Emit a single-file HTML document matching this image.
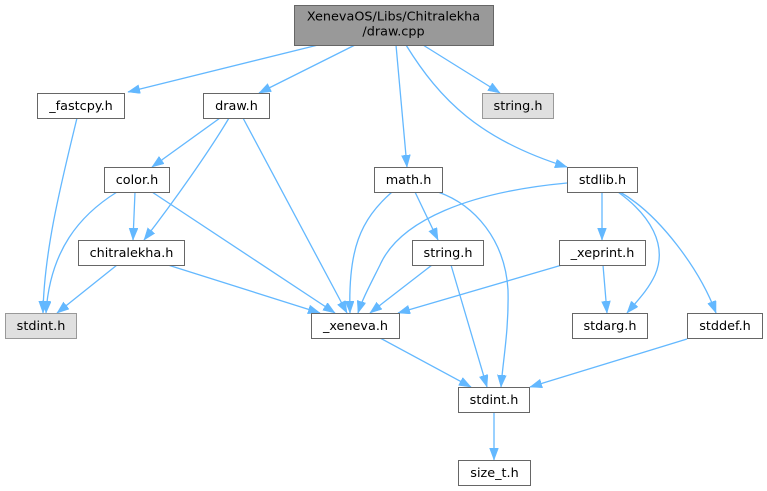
<!DOCTYPE html>
<html><head><meta charset="utf-8"><style>
html,body{margin:0;padding:0;background:#fff;}
svg{display:block;}
text{font-family:"DejaVu Sans","Liberation Sans",sans-serif;font-size:12.8px;fill:#000;text-anchor:middle;}
.n{fill:#fff;stroke:#666;stroke-width:1;}
.g{fill:#e0e0e0;stroke:#999;stroke-width:1;}
.r{fill:#999;stroke:#666;stroke-width:1;}
.e{fill:none;stroke:#63b8ff;stroke-width:1.3;marker-end:url(#ah);}
</style></head><body>
<svg width="767" height="491" viewBox="0 0 767 491" xmlns="http://www.w3.org/2000/svg">
<defs>
<marker id="ah" markerUnits="userSpaceOnUse" markerWidth="13" markerHeight="10" refX="12" refY="4.5" orient="auto">
<path d="M0,0 L12,4.5 L0,9 z" fill="#63b8ff" stroke="#63b8ff" stroke-width="0.5"/>
</marker>
</defs>

<!-- edges -->
<path class="e" d="M318,45 L128,92"/>
<path class="e" d="M355,45 L259,93"/>
<path class="e" d="M396,45 L407,167"/>
<path class="e" d="M406,45 C440,100 480,140 567,167"/>
<path class="e" d="M423,45 L500,93"/>

<path class="e" d="M77,118 C62,180 44,250 43,313"/>
<path class="e" d="M220,118 L152,167"/>
<path class="e" d="M229,118 C210,150 175,200 144,240"/>
<path class="e" d="M243,118 L347,313"/>

<path class="e" d="M135,192 L133,240"/>
<path class="e" d="M117,192 C80,215 50,250 46,313"/>
<path class="e" d="M152,192 L335,313"/>

<path class="e" d="M117,265 L57,313"/>
<path class="e" d="M168,265 L320,313"/>

<path class="e" d="M392,192 C360,220 348,250 350,313"/>
<path class="e" d="M415,192 L438,240"/>
<path class="e" d="M438,192 C475,205 505,240 508,290 C509,330 503,360 501,387"/>

<path class="e" d="M567,183 C470,192 400,220 380,265 C370,285 362,300 358,313"/>
<path class="e" d="M602,192 L602,240"/>
<path class="e" d="M618,192 C650,215 668,245 655,275 C648,290 638,300 627,313"/>
<path class="e" d="M620,192 C660,215 700,270 716,313"/>

<path class="e" d="M432,265 L370,313"/>
<path class="e" d="M451,265 L487,387"/>
<path class="e" d="M562,265 L398,313"/>
<path class="e" d="M603,265 L607,313"/>

<path class="e" d="M380,338 L471,387"/>
<path class="e" d="M687,339 L530,387"/>
<path class="e" d="M494,412 L494,460"/>

<!-- nodes -->
<rect class="r" x="294.5" y="5.5" width="199" height="40"/>
<text x="393.5" y="20.5">XenevaOS/Libs/Chitralekha</text>
<text x="393.5" y="35.5">/draw.cpp</text>

<rect class="n" x="37.5" y="93.5" width="87" height="25"/>
<text x="81" y="110">_fastcpy.h</text>

<rect class="n" x="203.5" y="93.5" width="66" height="25"/>
<text x="236.5" y="110">draw.h</text>

<rect class="g" x="482.5" y="93.5" width="71" height="25"/>
<text x="518" y="110">string.h</text>

<rect class="n" x="104.5" y="167.5" width="65" height="25"/>
<text x="137" y="184">color.h</text>

<rect class="n" x="374.5" y="167.5" width="68" height="25"/>
<text x="408.5" y="184">math.h</text>

<rect class="n" x="567.5" y="167.5" width="70" height="25"/>
<text x="602.5" y="184">stdlib.h</text>

<rect class="n" x="78.5" y="240.5" width="106" height="25"/>
<text x="131.5" y="257">chitralekha.h</text>

<rect class="n" x="412.5" y="240.5" width="71" height="25"/>
<text x="448" y="257">string.h</text>

<rect class="n" x="559.5" y="240.5" width="86" height="25"/>
<text x="602.5" y="257">_xeprint.h</text>

<rect class="g" x="5.5" y="313.5" width="71" height="25"/>
<text x="41" y="330">stdint.h</text>

<rect class="n" x="311.5" y="313.5" width="88" height="25"/>
<text x="355.5" y="330">_xeneva.h</text>

<rect class="n" x="572.5" y="313.5" width="75" height="25"/>
<text x="610" y="330">stdarg.h</text>

<rect class="n" x="687.5" y="313.5" width="75" height="25"/>
<text x="725" y="330">stddef.h</text>

<rect class="n" x="458.5" y="387.5" width="71" height="25"/>
<text x="494" y="404">stdint.h</text>

<rect class="n" x="458.5" y="460.5" width="72" height="25"/>
<text x="494.5" y="477">size_t.h</text>
</svg>
</body></html>
